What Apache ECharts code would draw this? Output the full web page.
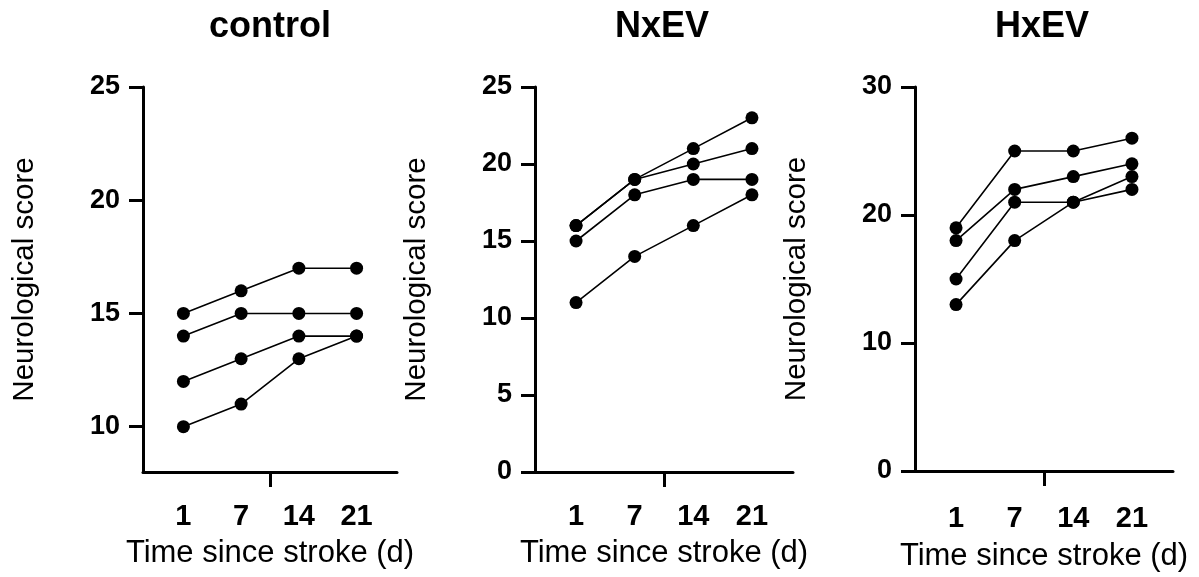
<!DOCTYPE html>
<html><head><meta charset="utf-8">
<script src="https://cdn.jsdelivr.net/npm/echarts@6/dist/echarts.min.js"></script>
<style>html,body{margin:0;padding:0;background:#fff}#c{width:1199px;height:577px}</style>
</head><body><div id="c"></div>
<script>
const days = ['1', '7', '14', '21'];
const panelTitles = ['control', 'NxEV', 'HxEV'];
const yTicksControl = [10, 15, 20, 25];
const yTicksNx = [0, 5, 10, 15, 20, 25];
const yTicksHx = [0, 10, 20, 30];

const controlA = [15, 16, 17, 17];
const controlB = [14, 15, 15, 15];
const controlC = [12, 13, 14, 14];
const controlD = [10, 11, 13, 14];

const nxA = [16, 19, 21, 23];
const nxB = [16, 19, 20, 21];
const nxC = [15, 18, 19, 19];
const nxD = [11, 14, 16, 18];

const hxA = [19, 25, 25, 26];
const hxB = [18, 22, 23, 24];
const hxC = [15, 21, 21, 22];
const hxD = [13, 18, 21, 23];

const FONT = 'Liberation Sans, Arial, sans-serif';
const grids = [
  {left: 143, top: 87, width: 254, height: 385},
  {left: 535, top: 87, width: 258, height: 385},
  {left: 915, top: 87, width: 258, height: 384}
];
const titleX = [270, 662, 1042];
const xNameGaps = [66, 66, 70];
const xLabelMargins = [30, 30, 33];
const yRanges = [[8, 25, yTicksControl], [0, 25, yTicksNx], [0, 30, yTicksHx]];
const panels = [
  [controlA, controlB, controlC, controlD],
  [nxA, nxB, nxC, nxD],
  [hxA, hxB, hxC, hxD]
];

const axisLine = {show: true, lineStyle: {color: '#000', width: 3}};
const option = {
  backgroundColor: '#fff',
  animation: false,
  title: grids.map((g, i) => ({
    text: panelTitles[i],
    left: titleX[i],
    top: 9,
    padding: 0,
    textAlign: 'center',
    textStyle: {fontFamily: FONT, fontSize: 36, fontWeight: 'bold', color: '#000'}
  })),
  grid: grids,
  xAxis: grids.map((g, i) => ({
    type: 'value', gridIndex: i, min: 0.3, max: 4.7,
    splitLine: {show: false},
    axisLine: axisLine,
    axisTick: {show: true, customValues: [2.5], length: 15, lineStyle: {color: '#000', width: 3}},
    axisLabel: {
      show: true, customValues: [1, 2, 3, 4], margin: xLabelMargins[i],
      formatter: v => days[Math.round(v) - 1] || '',
      fontFamily: FONT, fontSize: 29, fontWeight: 'bold', color: '#000'
    },
    name: 'Time since stroke (d)', nameLocation: 'middle', nameGap: xNameGaps[i],
    nameTextStyle: {fontFamily: FONT, fontSize: 31, color: '#000'}
  })),
  yAxis: grids.map((g, i) => ({
    type: 'value', gridIndex: i, min: yRanges[i][0], max: yRanges[i][1],
    splitLine: {show: false},
    axisLine: axisLine,
    axisTick: {show: true, customValues: yRanges[i][2], length: 14, lineStyle: {color: '#000', width: 3}},
    axisLabel: {
      show: true, customValues: yRanges[i][2], margin: 23,
      fontFamily: FONT, fontSize: 27, fontWeight: 'bold', color: '#000'
    },
    name: 'Neurological score', nameLocation: 'middle', nameGap: 103, nameRotate: 90,
    nameTextStyle: {fontFamily: FONT, fontSize: 29.5, color: '#000'}
  })),
  series: []
};
panels.forEach((list, p) => {
  list.forEach(arr => {
    option.series.push({
      type: 'line', xAxisIndex: p, yAxisIndex: p,
      data: arr.map((v, k) => [k + 1, v]),
      symbol: 'circle', symbolSize: 13,
      itemStyle: {color: '#000'},
      lineStyle: {color: '#000', width: 1.6}
    });
  });
});
const chart = echarts.init(document.getElementById('c'), null, {renderer: 'canvas'});
chart.setOption(option);
</script></body></html>
